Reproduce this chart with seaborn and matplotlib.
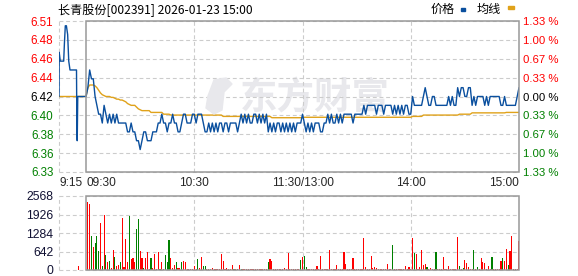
import matplotlib
matplotlib.use("Agg")
import matplotlib.pyplot as plt
import seaborn as sns
import pandas as pd
import numpy as np
from matplotlib.patches import Rectangle, Polygon

# ---------------- data ----------------
title = "长青股份[002391] 2026-01-23 15:00"
prev_close = 6.42
pct_range = 1.33
price_labels = ["6.51", "6.48", "6.46", "6.44", "6.42", "6.40", "6.38", "6.36", "6.33"]
pct_labels = ["1.33 %", "1.00 %", "0.67 %", "0.33 %", "0.00 %", "0.33 %", "0.67 %", "1.00 %", "1.33 %"]
time_ticks = [-15, 0, 60, 120, 180, 240]
time_labels = ["9:15", "09:30", "10:30", "11:30/13:00", "14:00", "15:00"]
vol_ticks = [0, 642, 1284, 1926, 2568]

# call-auction (9:15-9:30), minutes relative to 9:30
pre_minutes = [-15.0, -14.9, -14.3, -13.3, -12.4, -12.0, -11.5, -10.9, -10.2, -9.6,
               -8.9, -5.3, -5.1, -4.9, -4.6, -0.5]
pre_prices = [6.42, 6.47, 6.46, 6.46, 6.46, 6.48, 6.50, 6.50, 6.49, 6.46,
              6.45, 6.45, 6.39, 6.37, 6.42, 6.42]
pre_avg_minutes = [-15.0, -0.5]
pre_avg = [6.42, 6.42]
pre_vol_minute = [-4.3]
pre_vol = [140]

# trading minutes 0..240 (11:30 and 13:00 merged)
price = [
    6.42, 6.43, 6.45, 6.44, 6.44, 6.42, 6.41, 6.40, 6.40, 6.39,
    6.41, 6.40, 6.39, 6.40, 6.39, 6.40, 6.39, 6.40, 6.39, 6.39,
    6.39, 6.39, 6.39, 6.38, 6.38, 6.39, 6.38, 6.38, 6.37, 6.37,
    6.36, 6.37, 6.38, 6.38, 6.37, 6.37, 6.37, 6.38, 6.38, 6.38,
    6.39, 6.39, 6.40, 6.39, 6.39, 6.38, 6.39, 6.39, 6.40, 6.39,
    6.39, 6.38, 6.38, 6.39, 6.40, 6.40, 6.39, 6.39, 6.39, 6.40,
    6.40, 6.39, 6.40, 6.40, 6.40, 6.39, 6.38, 6.38, 6.39, 6.38,
    6.39, 6.38, 6.39, 6.38, 6.39, 6.39, 6.38, 6.39, 6.39, 6.38,
    6.39, 6.39, 6.39, 6.39, 6.38, 6.39, 6.40, 6.39, 6.40, 6.39,
    6.40, 6.39, 6.39, 6.40, 6.40, 6.39, 6.40, 6.39, 6.40, 6.39,
    6.40, 6.38, 6.39, 6.38, 6.39, 6.38, 6.39, 6.39, 6.38, 6.39,
    6.38, 6.39, 6.38, 6.39, 6.38, 6.39, 6.38, 6.39, 6.39, 6.39,
    6.40, 6.39, 6.38, 6.39, 6.38, 6.39, 6.38, 6.39, 6.39, 6.39,
    6.38, 6.38, 6.39, 6.39, 6.40, 6.39, 6.40, 6.39, 6.39, 6.40,
    6.39, 6.40, 6.39, 6.40, 6.40, 6.40, 6.40, 6.40, 6.39, 6.40,
    6.40, 6.40, 6.40, 6.40, 6.41, 6.40, 6.41, 6.41, 6.41, 6.41,
    6.41, 6.40, 6.41, 6.41, 6.41, 6.40, 6.41, 6.41, 6.41, 6.41,
    6.40, 6.41, 6.40, 6.41, 6.40, 6.41, 6.40, 6.41, 6.41, 6.40,
    6.40, 6.42, 6.41, 6.41, 6.41, 6.41, 6.41, 6.42, 6.43, 6.42,
    6.41, 6.41, 6.42, 6.42, 6.41, 6.41, 6.41, 6.41, 6.41, 6.41,
    6.41, 6.42, 6.41, 6.42, 6.41, 6.41, 6.43, 6.42, 6.43, 6.43,
    6.42, 6.42, 6.43, 6.43, 6.41, 6.42, 6.41, 6.42, 6.42, 6.42,
    6.42, 6.41, 6.42, 6.41, 6.42, 6.42, 6.42, 6.42, 6.42, 6.42,
    6.41, 6.41, 6.42, 6.41, 6.41, 6.41, 6.41, 6.41, 6.41, 6.42,
    6.43,
]
avg_price = [
    6.420, 6.430, 6.433, 6.433, 6.433, 6.432, 6.430, 6.427, 6.424, 6.422,
    6.421, 6.420, 6.420, 6.420, 6.419, 6.419, 6.418, 6.417, 6.417, 6.416,
    6.416, 6.415, 6.414, 6.412, 6.411, 6.410, 6.410, 6.410, 6.408, 6.406,
    6.405, 6.404, 6.404, 6.404, 6.404, 6.404, 6.402, 6.402, 6.402, 6.402,
    6.402, 6.402, 6.402, 6.400, 6.400, 6.400, 6.400, 6.399, 6.399, 6.399,
    6.399, 6.399, 6.399, 6.399, 6.399, 6.399, 6.399, 6.399, 6.399, 6.399,
    6.399, 6.399, 6.399, 6.399, 6.399, 6.399, 6.399, 6.399, 6.399, 6.399,
    6.399, 6.399, 6.399, 6.399, 6.399, 6.399, 6.3975, 6.3975, 6.3975, 6.3975,
    6.3975, 6.3975, 6.3975, 6.3975, 6.3975, 6.3975, 6.3975, 6.3975, 6.3975, 6.3975,
    6.3975, 6.3975, 6.3975, 6.3975, 6.3975, 6.3975, 6.3975, 6.3975, 6.3975, 6.3975,
    6.3975, 6.3975, 6.3975, 6.396, 6.396, 6.396, 6.396, 6.396, 6.396, 6.396,
    6.396, 6.396, 6.396, 6.396, 6.396, 6.396, 6.396, 6.396, 6.396, 6.396,
    6.396, 6.3965, 6.3965, 6.3965, 6.3965, 6.3965, 6.3965, 6.3965, 6.3965, 6.3965,
    6.3965, 6.3965, 6.3965, 6.3965, 6.3965, 6.3965, 6.3965, 6.3965, 6.3965, 6.3965,
    6.3965, 6.3965, 6.3965, 6.3965, 6.3965, 6.3965, 6.3965, 6.3965, 6.3965, 6.3965,
    6.3965, 6.3965, 6.3965, 6.3965, 6.3965, 6.3965, 6.3965, 6.3965, 6.3965, 6.3965,
    6.3965, 6.3965, 6.3965, 6.3965, 6.3965, 6.3965, 6.3965, 6.3965, 6.3965, 6.3965,
    6.3965, 6.3965, 6.3965, 6.3965, 6.3965, 6.3965, 6.3965, 6.3965, 6.3965, 6.3965,
    6.3965, 6.3975, 6.3975, 6.3975, 6.3975, 6.3975, 6.3975, 6.399, 6.399, 6.399,
    6.399, 6.399, 6.399, 6.399, 6.399, 6.399, 6.399, 6.399, 6.399, 6.399,
    6.399, 6.399, 6.399, 6.399, 6.399, 6.399, 6.399, 6.400, 6.400, 6.400,
    6.400, 6.400, 6.400, 6.400, 6.4015, 6.4015, 6.4015, 6.4015, 6.4015, 6.4015,
    6.4015, 6.4015, 6.4015, 6.4015, 6.4015, 6.4015, 6.4015, 6.4015, 6.4015, 6.4015,
    6.4015, 6.4015, 6.4015, 6.402, 6.402, 6.402, 6.402, 6.402, 6.402, 6.402,
    6.402,
]
# volume bars for minutes 1..240 ; 1 = up (red), 0 = down (green)
volume = [
    2360, 2290, 1180, 798, 937, 1180, 660, 1643, 139, 1909,
    520, 266, 324, 58, 694, 451, 150, 185, 278, 1805,
    104, 1076, 289, 1874, 393, 417, 278, 1423, 1770, 660,
    417, 69, 417, 625, 40, 417, 69, 555, 35, 625,
    30, 278, 25, 520, 278, 1041, 417, 58, 174, 278,
    58, 58, 278, 312, 278, 46, 35, 25, 46, 139,
    35, 382, 69, 451, 139, 139, 35, 46, 46, 69,
    35, 35, 35, 35, 555, 312, 35, 69, 35, 35,
    174, 35, 35, 35, 185, 35, 35, 35, 35, 35,
    35, 35, 35, 35, 35, 35, 35, 35, 35, 35,
    278, 382, 312, 35, 35, 35, 35, 35, 35, 58,
    35, 590, 46, 35, 35, 35, 35, 46, 347, 440,
    486, 93, 35, 35, 35, 35, 35, 139, 35, 486,
    35, 35, 35, 35, 694, 35, 35, 35, 162, 35,
    35, 35, 625, 208, 35, 35, 35, 417, 35, 35,
    35, 35, 35, 1110, 93, 35, 35, 486, 58, 93,
    69, 35, 35, 35, 35, 35, 208, 35, 35, 868,
    35, 35, 35, 35, 35, 35, 139, 35, 104, 35,
    1110, 590, 555, 35, 93, 694, 174, 208, 93, 35,
    58, 35, 35, 625, 35, 35, 35, 451, 35, 35,
    139, 35, 35, 35, 35, 1145, 139, 35, 58, 347,
    243, 104, 35, 35, 694, 35, 93, 35, 417, 278,
    243, 35, 139, 35, 451, 35, 35, 35, 35, 312,
    417, 312, 729, 174, 660, 1180, 35, 35, 35, 1006,
]
vol_up = [
    1, 1, 0, 1, 0, 0, 0, 1, 0, 1,
    0, 1, 0, 1, 1, 0, 1, 1, 0, 1,
    1, 1, 1, 0, 1, 1, 1, 0, 0, 1,
    1, 0, 1, 1, 1, 0, 1, 1, 1, 1,
    0, 1, 1, 0, 0, 0, 1, 1, 1, 0,
    1, 1, 0, 1, 1, 1, 1, 1, 1, 1,
    1, 0, 1, 1, 0, 0, 1, 1, 1, 1,
    1, 1, 1, 1, 1, 1, 1, 1, 1, 1,
    1, 0, 1, 1, 1, 0, 1, 1, 1, 1,
    1, 1, 1, 1, 1, 1, 1, 1, 1, 1,
    0, 1, 1, 1, 1, 1, 1, 1, 1, 1,
    1, 1, 1, 1, 1, 1, 1, 1, 0, 1,
    0, 0, 1, 1, 1, 1, 1, 1, 1, 1,
    1, 1, 1, 1, 1, 1, 1, 1, 1, 1,
    1, 1, 1, 1, 1, 1, 1, 1, 1, 1,
    1, 1, 1, 1, 1, 1, 1, 1, 1, 1,
    1, 1, 1, 1, 1, 1, 1, 1, 1, 0,
    1, 1, 1, 1, 1, 1, 1, 1, 1, 1,
    1, 0, 1, 1, 1, 1, 1, 1, 0, 1,
    1, 1, 1, 0, 1, 1, 1, 1, 1, 1,
    1, 1, 1, 1, 1, 1, 0, 1, 0, 1,
    1, 1, 1, 1, 0, 1, 0, 1, 1, 1,
    1, 1, 1, 1, 0, 1, 1, 1, 1, 1,
    0, 1, 1, 0, 1, 1, 1, 1, 1, 1,
]

# ---------------- style ----------------
sns.set_theme(style="white")
plt.rcParams["font.family"] = ["Liberation Sans", "Noto Sans CJK SC", "DejaVu Sans"]

BLUE = "#0a4f9e"
GOLD = "#e0a21a"
RED = "#ff0000"
GREEN = "#008000"
FRAME = "#999999"
GRID = "#cccccc"
WM = "#e8e8ec"
DASH = (0, (3.5, 2.5))

W, H = 578, 276
fig = plt.figure(figsize=(W / 100, H / 100), dpi=100)
fig.patch.set_facecolor("white")


def rect(l, t, r, b):
    return [l / W, 1 - b / H, (r - l) / W, (b - t) / H]


ax = fig.add_axes(rect(59, 21, 519, 172))
axv = fig.add_axes(rect(59, 196, 519, 270))

lo = prev_close * (1 - pct_range / 100)
hi = prev_close * (1 + pct_range / 100)
yt = np.linspace(hi, lo, 9)

# ---- price panel ----
ax.set_xlim(-15, 240)
ax.set_ylim(lo, hi)
for s in ax.spines.values():
    s.set_visible(False)
for y in yt:
    ax.axhline(y, color=GRID, lw=0.8, ls=DASH, zorder=1, clip_on=False)
for x in [-15, 60, 120, 180]:
    ax.axvline(x, color=GRID, lw=0.8, ls=DASH, zorder=1, clip_on=False)
ax.add_patch(Rectangle((0, lo), 240, hi - lo, fill=False, ec=FRAME, lw=1.1,
                       zorder=5, clip_on=False))

# watermark (decorative)
ax.text(127, 6.4185, "东方财富", family=["Noto Sans CJK SC"], fontsize=27,
        fontweight="bold", color=WM, ha="center", va="center", zorder=0)


def px(xp, yp):
    return fig.transFigure.inverted().transform(
        fig.transFigure.transform((xp / W, 1 - yp / H)))


logo_pts = [(214, 80), (226, 78), (232, 84), (224, 92), (222, 110), (214, 114),
            (206, 108), (208, 96)]
fig.patches.append(Polygon([(x / W, 1 - y / H) for x, y in logo_pts], closed=True,
                           color=WM, transform=fig.transFigure, figure=fig, zorder=0))

minutes = list(range(len(price)))
df_p = pd.DataFrame({"t": pre_minutes + minutes, "p": pre_prices + price})
df_a = pd.DataFrame({"t": pre_avg_minutes + minutes, "p": pre_avg + avg_price})
sns.lineplot(data=df_a, x="t", y="p", ax=ax, color=GOLD, lw=1.0,
             estimator=None, sort=False, zorder=3)
sns.lineplot(data=df_p, x="t", y="p", ax=ax, color=BLUE, lw=1.0,
             estimator=None, sort=False, zorder=4)
ax.set_xlabel("")
ax.set_ylabel("")
ax.patch.set_alpha(0)

ax.set_yticks(yt)
ax.set_yticklabels(price_labels)
ax.tick_params(axis="y", length=0, pad=4, labelsize=8.4)
for i, lab in enumerate(ax.get_yticklabels()):
    lab.set_color(RED if i < 4 else ("#000000" if i == 4 else GREEN))

ax.set_xticks(time_ticks)
ax.set_xticklabels(time_labels)
ax.tick_params(axis="x", length=0, pad=3.5, labelsize=8.6)
has = ["left", "left", "center", "center", "center", "right"]
for lab, ha in zip(ax.get_xticklabels(), has):
    lab.set_ha(ha)

axr = ax.twinx()
axr.set_ylim(lo, hi)
for s in axr.spines.values():
    s.set_visible(False)
axr.set_yticks(yt)
axr.set_yticklabels(pct_labels)
axr.tick_params(axis="y", length=0, pad=3, labelsize=8.2)
for i, lab in enumerate(axr.get_yticklabels()):
    lab.set_color(RED if i < 4 else ("#000000" if i == 4 else GREEN))
axr.grid(False)

# ---- volume panel ----
vol_minutes = pre_vol_minute + list(range(1, len(volume) + 1))
vol_values = pre_vol + volume
vol_colors = [RED] + [RED if u else GREEN for u in vol_up]
axv.bar(vol_minutes, vol_values, width=0.62, color=vol_colors, linewidth=0,
        antialiased=False, zorder=3)
axv.set_xlim(-15, 240)
axv.set_ylim(0, vol_ticks[-1])
for s in axv.spines.values():
    s.set_visible(False)
for y in vol_ticks:
    axv.axhline(y, color=GRID, lw=0.8, ls=DASH, zorder=1, clip_on=False)
for x in [-15, 60, 120, 180]:
    axv.axvline(x, color=GRID, lw=0.8, ls=DASH, zorder=1, clip_on=False)
axv.add_patch(Rectangle((0, 0), 240, vol_ticks[-1], fill=False, ec=FRAME, lw=1.1,
                        zorder=5, clip_on=False))
axv.set_xticks([])
axv.set_yticks(vol_ticks)
axv.set_yticklabels([str(v) for v in vol_ticks])
axv.tick_params(axis="y", length=0, pad=4, labelsize=8.8, labelcolor="#111133")
axv.set_xlabel("")
axv.set_ylabel("")

# ---- title & legend ----
fig.text(58 / W, 1 - 9.5 / H, title, family=["Noto Sans CJK SC"], fontsize=8.7,
         color="#000000", ha="left", va="center")
fig.text(431 / W, 1 - 9.5 / H, "价格", family=["Noto Sans CJK SC"], fontsize=8.7,
         color="#000000", ha="left", va="center")
fig.text(477 / W, 1 - 9.5 / H, "均线", family=["Noto Sans CJK SC"], fontsize=8.7,
         color="#000000", ha="left", va="center")
fig.patches.append(Rectangle((461 / W, 1 - 11 / H), 3.5 / W, 3 / H, color=BLUE,
                             transform=fig.transFigure, figure=fig))
fig.patches.append(Rectangle((508 / W, 1 - 8.5 / H), 6 / W, 2.2 / H, color=GOLD,
                             transform=fig.transFigure, figure=fig))

fig.savefig("out.png", dpi=100, facecolor="white")
